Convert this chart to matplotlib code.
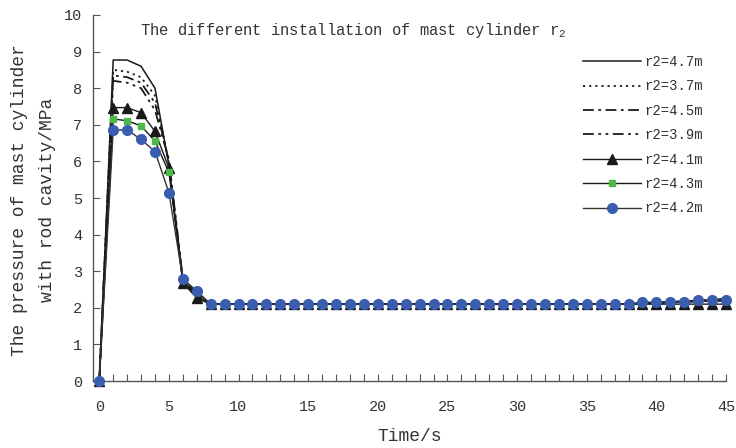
import matplotlib
matplotlib.use("Agg")
import matplotlib.pyplot as plt
from matplotlib.ticker import MultipleLocator

plt.rcParams['font.family'] = ['Liberation Mono', 'DejaVu Sans']
plt.rcParams['mathtext.fontset'] = 'custom'
plt.rcParams['mathtext.rm'] = 'Liberation Mono'

time = list(range(0, 46))

flat = [2.1] * 30  # t = 8 .. 37

p_47 = [0, 8.77, 8.77, 8.6, 8.0, 5.9, 2.7, 2.3] + flat + [2.1, 2.12, 2.15, 2.17, 2.18, 2.2, 2.22, 2.25]
p_37 = [0, 8.5, 8.45, 8.3, 7.8, 5.95, 2.75, 2.3] + flat + [2.1, 2.12, 2.14, 2.16, 2.18, 2.2, 2.22, 2.24]
p_45 = [0, 8.35, 8.3, 8.15, 7.6, 6.0, 2.75, 2.3] + flat + [2.1, 2.11, 2.13, 2.15, 2.17, 2.19, 2.21, 2.23]
p_39 = [0, 8.2, 8.15, 8.0, 7.4, 6.05, 2.8, 2.35] + flat + [2.1, 2.11, 2.12, 2.14, 2.16, 2.18, 2.2, 2.22]
p_41 = [0, 7.47, 7.47, 7.33, 6.82, 5.82, 2.68, 2.27] + flat + [2.1, 2.1, 2.1, 2.1, 2.1, 2.1, 2.1, 2.1]
p_43 = [0, 7.16, 7.11, 6.97, 6.56, 5.7, 2.8, 2.42] + flat + [2.1, 2.14, 2.15, 2.15, 2.15, 2.18, 2.18, 2.18]
p_42 = [0, 6.86, 6.86, 6.6, 6.27, 5.15, 2.79, 2.46] + flat + [2.1, 2.15, 2.15, 2.15, 2.15, 2.2, 2.2, 2.2]

labels = ["r2=4.7m", "r2=3.7m", "r2=4.5m", "r2=3.9m", "r2=4.1m", "r2=4.3m", "r2=4.2m"]
x_ticks = [0, 5, 10, 15, 20, 25, 30, 35, 40, 45]
y_ticks = [0, 1, 2, 3, 4, 5, 6, 7, 8, 9, 10]

W, H = 736, 448
fig = plt.figure(figsize=(W / 100, H / 100), dpi=100)
ax = fig.add_axes([93 / W, (H - 381) / H, (726 - 93) / W, (381 - 15) / H])

txt = '#333333'
lc = '#1a1a1a'
ax.plot(time, p_47, color=lc, lw=1.1, ls='-', label=labels[0], zorder=3)
ax.plot(time, p_37, color=lc, lw=1.3, ls=(0, (1.2, 2.2)), label=labels[1], zorder=3)
ax.plot(time, p_45, color=lc, lw=1.3, ls=(0, (6, 2.5, 1.5, 2.5)), label=labels[2], zorder=3)
ax.plot(time, p_39, color=lc, lw=1.3, ls=(0, (6, 2.5, 1.5, 2.5, 1.5, 2.5)), label=labels[3], zorder=3)
ax.plot(time, p_41, color=lc, lw=1.0, marker='^', ms=7.5, mfc='#1a1a1a', mec='#1a1a1a',
        label=labels[4], zorder=4, clip_on=False)
ax.plot(time, p_43, color=lc, lw=1.0, marker='s', ms=4.5, mfc='#4cb848', mec='#4cb848',
        label=labels[5], zorder=5, clip_on=False)
ax.plot(time, p_42, color='#333333', lw=1.0, marker='o', ms=7, mfc='#3a5db0', mec='#3a5db0',
        label=labels[6], zorder=6, clip_on=False)

ax.set_xlim(-0.45, 45)
ax.set_ylim(0, 10)
ax.set_xticks(x_ticks)
ax.set_yticks(y_ticks)
ax.xaxis.set_minor_locator(MultipleLocator(1))
ax.tick_params(axis='x', which='both', direction='in', length=5, width=0.8, color='#555555',
               labelsize=11, labelcolor=txt, pad=14)
ax.tick_params(axis='y', which='both', direction='in', length=5, width=0.8, color='#555555',
               labelsize=11, labelcolor=txt, pad=8)
for s in ['top', 'right']:
    ax.spines[s].set_visible(False)
for s in ['left', 'bottom']:
    ax.spines[s].set_color('#555555')
    ax.spines[s].set_linewidth(1.0)

ax.set_xlabel('Time/s', fontsize=13, color=txt, labelpad=10)
fig.text(20 / W, 1 - 200 / H, 'The pressure of mast cylinder', rotation=90,
         ha='center', va='center', fontsize=13, color=txt)
fig.text(47 / W, 1 - 200 / H, 'with rod cavity/MPa', rotation=90,
         ha='center', va='center', fontsize=13, color=txt)

fig.text(140 / W, 1 - 30 / H, r'The different installation of mast cylinder r$\mathregular{_2}$',
         ha='left', va='center', fontsize=11.2, color=txt)

leg = ax.legend(loc='upper left', bbox_to_anchor=(583 / W, 1 - 55 / H),
                bbox_transform=fig.transFigure, frameon=False, fontsize=10,
                handlelength=4.2, handletextpad=0.2, labelspacing=0.75, borderpad=0,
                borderaxespad=0)
for t in leg.get_texts():
    t.set_color(txt)

fig.savefig('out.png', dpi=100)
